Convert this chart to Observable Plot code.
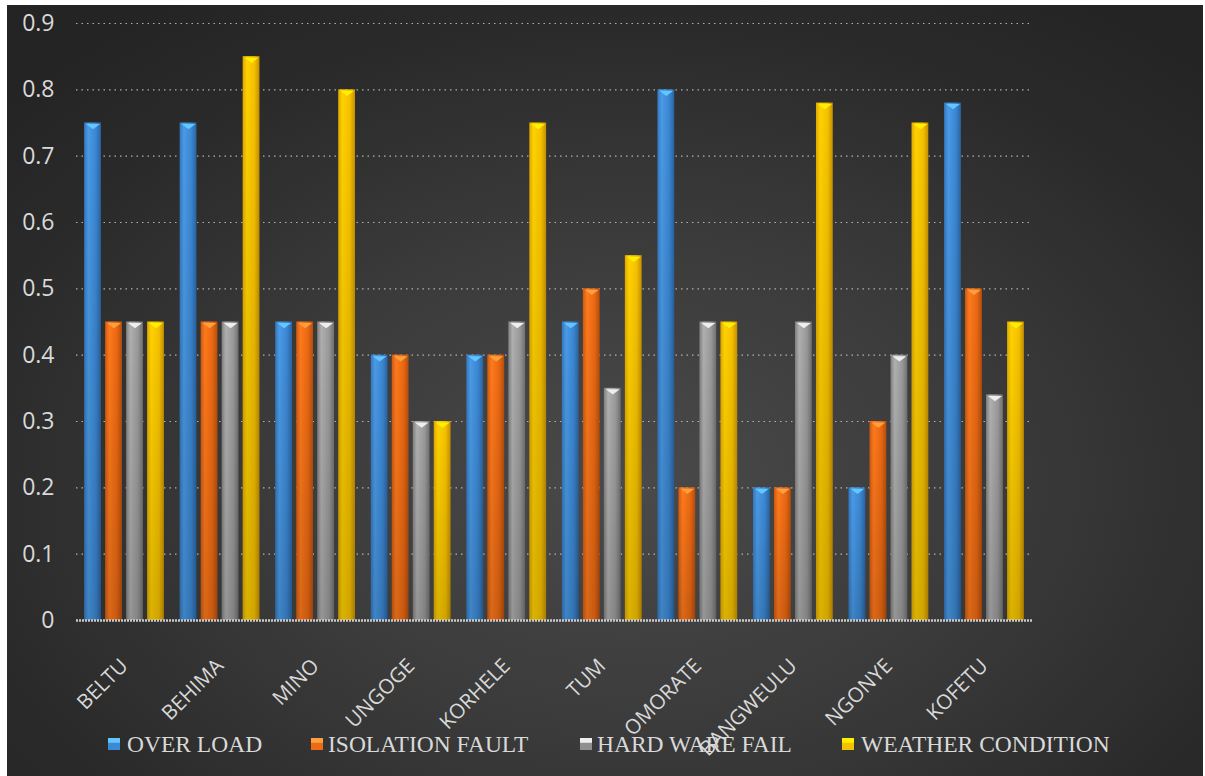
<!DOCTYPE html>
<html>
<head>
<meta charset="utf-8">
<script src="https://cdn.jsdelivr.net/npm/d3@7"></script>
<script src="https://cdn.jsdelivr.net/npm/@observablehq/plot@0.6"></script>
<style>
  html, body { margin: 0; padding: 0; background: #ffffff; width: 1205px; height: 776px; overflow: hidden; }
  #panel { position: absolute; left: 7px; top: 5px; width: 1196px; height: 771px;
    background: radial-gradient(ellipse 70% 75% at 52% 62%, #4a4a4a 0%, #3a3a3a 45%, #2a2a2a 80%, #242424 100%); }
  .layer { position: absolute; left: 0; top: 0; }
  .layer svg { background: transparent !important; overflow: visible; }
  #legend { position: absolute; left: 0; top: 0; width: 1205px; height: 776px; pointer-events: none; }
  .item { position: absolute; top: 730px; font-family: "Liberation Serif", "Times New Roman", serif; font-size: 23.5px; color: #d9d9d9; white-space: nowrap; line-height: 28px; }
  .sw { position: absolute; top: 738px; width: 12px; height: 12px; }
</style>
</head>
<body>
<svg width="0" height="0" style="position:absolute">
  <defs>
    <linearGradient id="g0" x1="0" x2="1" y1="0" y2="0">
      <stop offset="0%" stop-color="#3478c0"/><stop offset="25%" stop-color="#4a9be6"/><stop offset="70%" stop-color="#3b86d2"/><stop offset="100%" stop-color="#2a64a0"/>
    </linearGradient>
    <linearGradient id="g1" x1="0" x2="1" y1="0" y2="0">
      <stop offset="0%" stop-color="#d05a10"/><stop offset="25%" stop-color="#ff7a1c"/><stop offset="70%" stop-color="#ea6812"/><stop offset="100%" stop-color="#b54e0c"/>
    </linearGradient>
    <linearGradient id="g2" x1="0" x2="1" y1="0" y2="0">
      <stop offset="0%" stop-color="#808080"/><stop offset="25%" stop-color="#b0b0b0"/><stop offset="70%" stop-color="#999999"/><stop offset="100%" stop-color="#707070"/>
    </linearGradient>
    <linearGradient id="g3" x1="0" x2="1" y1="0" y2="0">
      <stop offset="0%" stop-color="#e0a800"/><stop offset="25%" stop-color="#ffd200"/><stop offset="70%" stop-color="#f5c000"/><stop offset="100%" stop-color="#c49000"/>
    </linearGradient>
    <linearGradient id="shade" x1="0" x2="0" y1="0" y2="1">
      <stop offset="0%" stop-color="#000" stop-opacity="0"/><stop offset="100%" stop-color="#000" stop-opacity="0.15"/>
    </linearGradient>
  </defs>
</svg>
<div id="panel"></div>
<div id="back" class="layer"></div>
<div id="front" class="layer"></div>
<div id="legend"></div>
<script>
const categories = ["BELTU", "BEHIMA", "MINO", "UNGOGE", "KORHELE", "TUM", "OMORATE", "BANGWEULU", "NGONYE", "KOFETU"];
const series = ["OVER LOAD", "ISOLATION FAULT", "HARD WARE FAIL", "WEATHER CONDITION"];
const overLoad        = [0.75, 0.75, 0.45, 0.40, 0.40, 0.45, 0.80, 0.20, 0.20, 0.78];
const isolationFault  = [0.45, 0.45, 0.45, 0.40, 0.40, 0.50, 0.20, 0.20, 0.30, 0.50];
const hardWareFail    = [0.45, 0.45, 0.45, 0.30, 0.45, 0.35, 0.45, 0.45, 0.40, 0.34];
const weatherCondition= [0.45, 0.85, 0.80, 0.30, 0.75, 0.55, 0.45, 0.78, 0.75, 0.45];
const yTicks = [0, 0.1, 0.2, 0.3, 0.4, 0.5, 0.6, 0.7, 0.8, 0.9];
const fills = ["url(#g0)", "url(#g1)", "url(#g2)", "url(#g3)"];
const capColors = ["#63c6ff", "#ffa040", "#eeeeee", "#fff000"];
const legendSwatch = ["#3a8ad6", "#ec6a12", "#8e8e8e", "#f2c200"];

const seriesValues = [overLoad, isolationFault, hardWareFail, weatherCondition];
const data = categories.flatMap((c, i) => series.map((s, j) => ({category: c, series: s, value: seriesValues[j][i]})));

const W = 1205, H = 725;
const margins = {marginLeft: 76, marginRight: 173, marginTop: 23, marginBottom: 105};
const font = '"Open Sans", "Noto Sans", sans-serif';

const capSymbol = {
  draw(ctx, size) {
    const r = Math.sqrt(size / Math.PI);
    ctx.moveTo(-r, 0); ctx.lineTo(r, 0); ctx.lineTo(0, r * 0.75); ctx.closePath();
  }
};

const back = Plot.plot({
  width: W, height: H, ...margins,
  style: {background: "transparent", color: "#d9d9d9", fontFamily: font},
  y: {domain: [0, 0.9], label: null},
  x: {axis: null},
  marks: [
    Plot.ruleY(yTicks.filter(d => d > 0), {stroke: "#c8c8c8", strokeWidth: 1.2, strokeDasharray: "1.5,4", strokeOpacity: 0.85}),
    Plot.axisY({ticks: yTicks, tickSize: 0, tickPadding: 22, tickFormat: d => String(+d.toFixed(1)), fontSize: 23, label: null})
  ]
});
document.getElementById("back").appendChild(back);

const front = Plot.plot({
  width: W, height: H, ...margins,
  style: {background: "transparent", color: "#d9d9d9", fontFamily: font, fontSize: "20.5px"},
  fx: {domain: categories, paddingInner: 0.165, paddingOuter: 0.085, round: false, label: null, tickRotate: -45, tickSize: 0, tickPadding: 42},
  x: {domain: series, axis: null, paddingInner: 0.2, paddingOuter: 0.0, round: false},
  y: {domain: [0, 0.9], axis: null},
  color: {domain: series, range: fills},
  marks: [
    Plot.barY(data, {fx: "category", x: "series", y: "value", fill: "series", insetLeft: 0, insetRight: 0}),
    Plot.barY(data, {fx: "category", x: "series", y: "value", fill: "url(#shade)", insetLeft: 0, insetRight: 0}),
    Plot.dot(data, {fx: "category", x: "series", y: "value", symbol: capSymbol, r: 7,
      fill: d => capColors[series.indexOf(d.series)], dy: 1, stroke: null}),
  ]
});
document.getElementById("front").appendChild(front);

const base = Plot.plot({
  width: W, height: H, ...margins,
  style: {background: "transparent"},
  y: {domain: [0, 0.9], axis: null},
  x: {axis: null},
  marks: [Plot.ruleY([0], {stroke: "#c9c9c9", strokeWidth: 2.5, strokeDasharray: "2,1"})]
});
const baseDiv = document.createElement("div");
baseDiv.className = "layer";
baseDiv.appendChild(base);
document.body.insertBefore(baseDiv, document.getElementById("legend"));

const legendPos = [[108, 127], [311, 328], [580, 597], [842, 861]];
const lg = document.getElementById("legend");
series.forEach((s, i) => {
  const sw = document.createElement("div");
  sw.className = "sw";
  sw.style.left = legendPos[i][0] + "px";
  sw.style.background = `linear-gradient(to bottom, ${capColors[i]} 0%, ${capColors[i]} 35%, ${legendSwatch[i]} 45%, ${legendSwatch[i]} 100%)`;
  lg.appendChild(sw);
  const t = document.createElement("div");
  t.className = "item";
  t.style.left = legendPos[i][1] + "px";
  t.textContent = s;
  lg.appendChild(t);
});
</script>
</body>
</html>
